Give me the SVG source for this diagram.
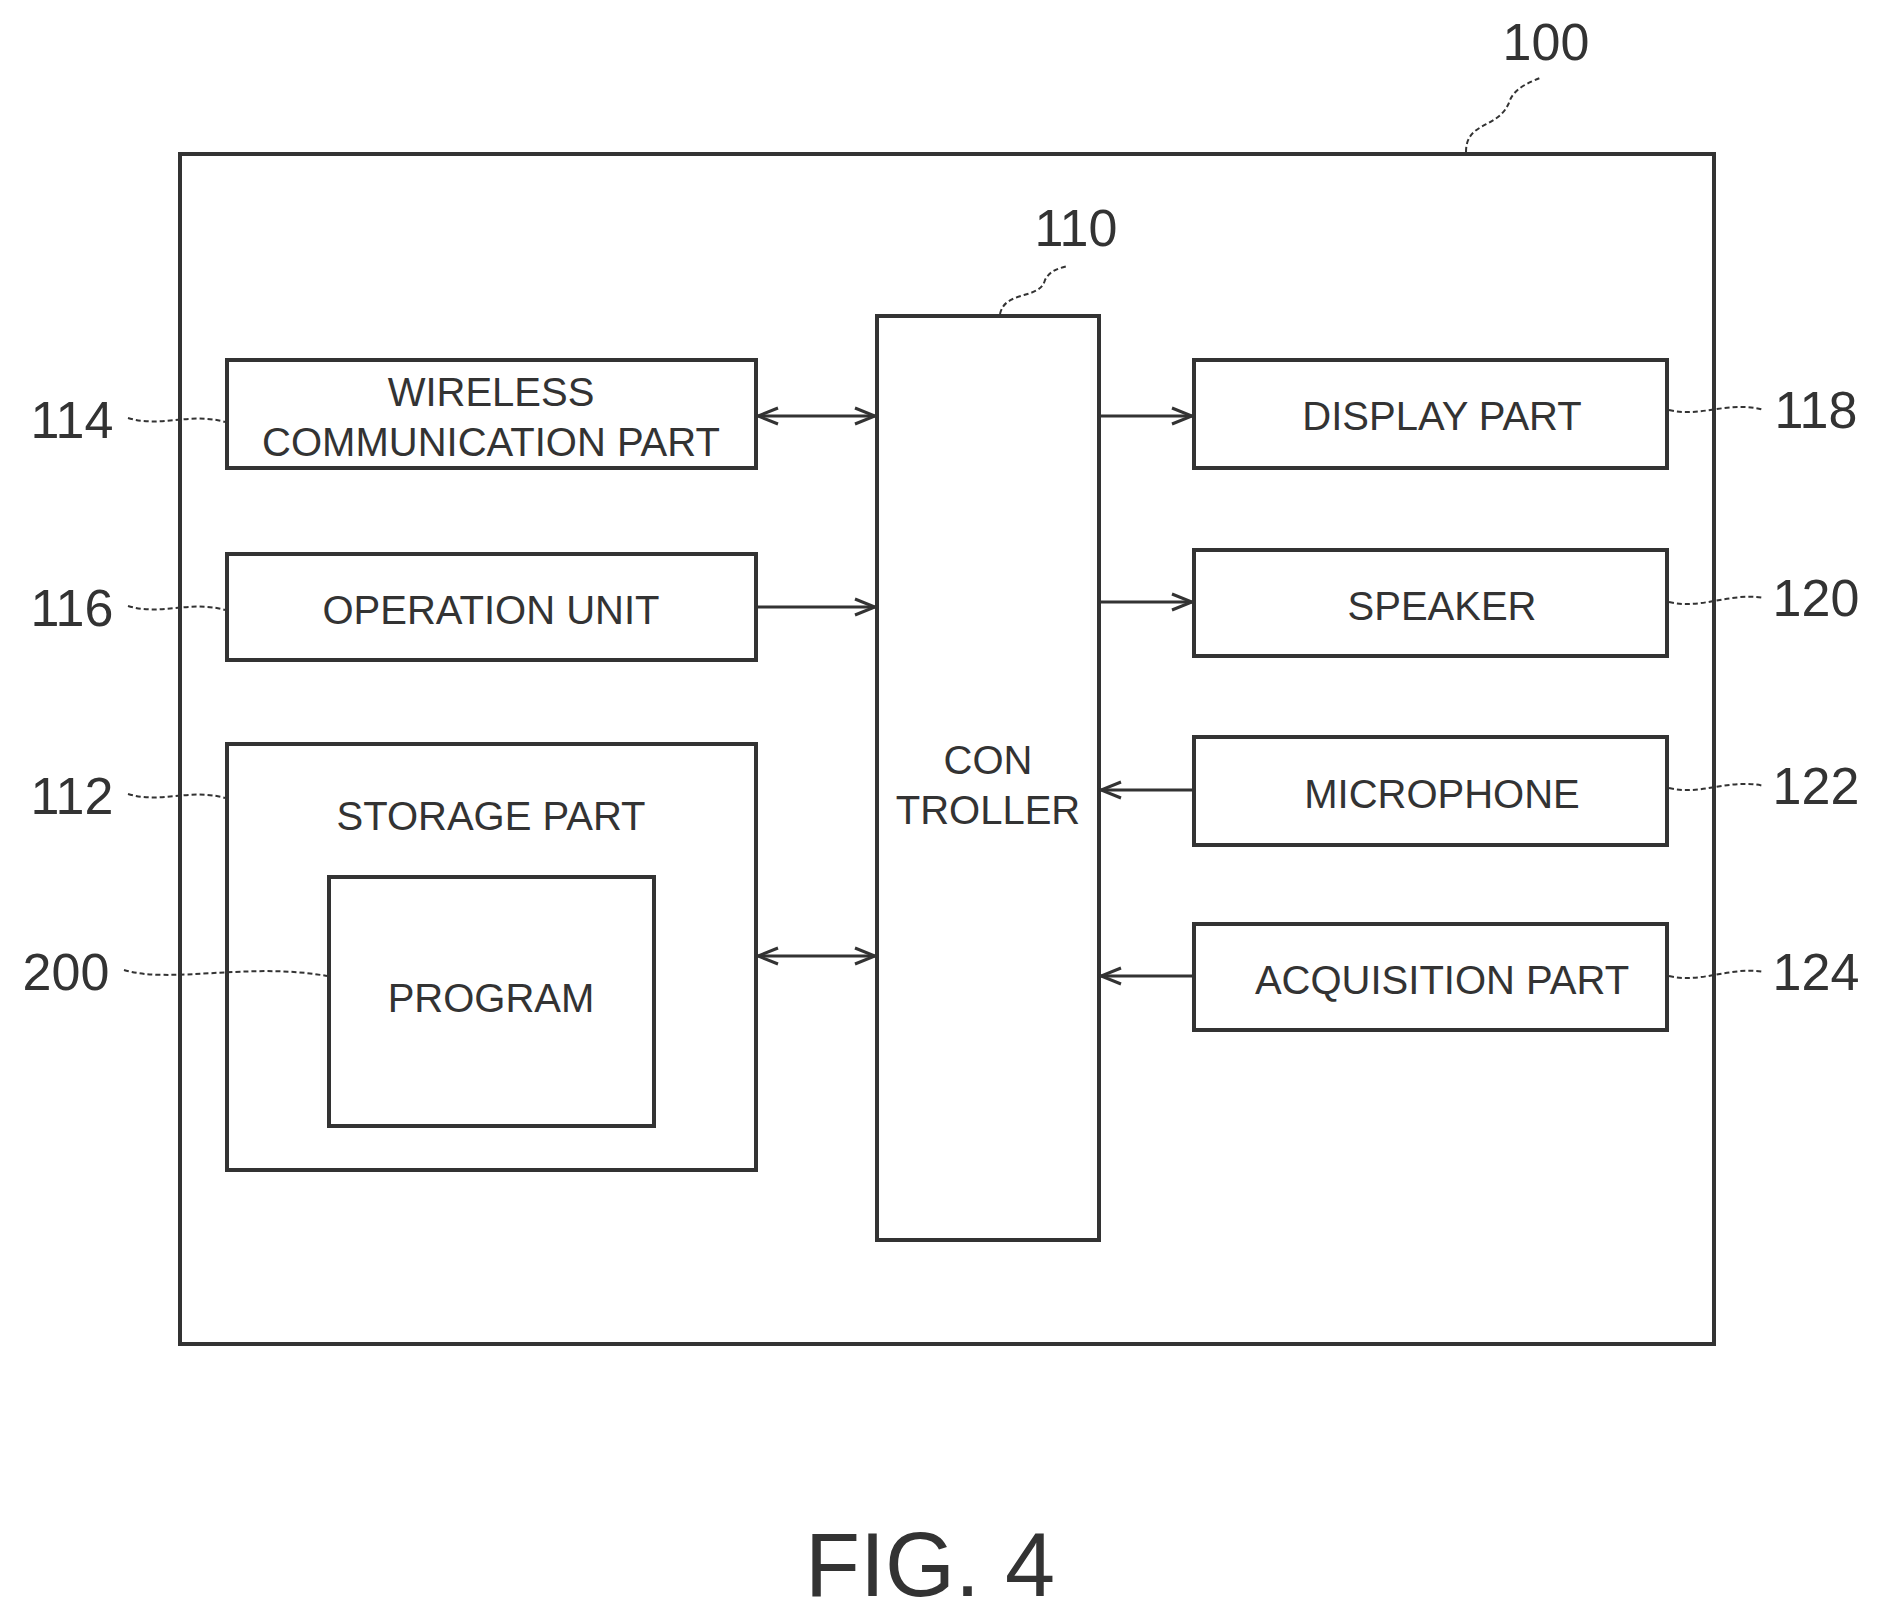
<svg xmlns="http://www.w3.org/2000/svg" width="1881" height="1619" viewBox="0 0 1881 1619">
<style>
.b{fill:none;stroke:#333;stroke-width:4}
.t{font-family:"Liberation Sans",Arial,sans-serif;font-size:40px;fill:#333;text-anchor:middle}
.n{font-family:"Liberation Sans",Arial,sans-serif;font-size:52px;fill:#333;text-anchor:middle}
.c{fill:none;stroke:#333;stroke-width:3}
.l{fill:none;stroke:#333;stroke-width:2;stroke-dasharray:5 3}
</style>
<defs>
<marker id="a" markerWidth="24" markerHeight="20" refX="22" refY="10" orient="auto-start-reverse" markerUnits="userSpaceOnUse">
<path d="M2,2 L22,10 L2,18" fill="none" stroke="#333" stroke-width="3"/>
</marker>
</defs>
<rect width="1881" height="1619" fill="#fff"/>
<g id="n100"><rect class="b" x="180" y="154" width="1534" height="1190"/><text class="n" x="1546" y="60">100</text><path class="l" d="M1466,152 C1466,120 1500,130 1510,100 C1515,88 1530,82 1540,78"/></g>
<g id="n110"><rect class="b" x="877" y="316" width="222" height="924"/><text class="t" x="988" y="774">CON</text><text class="t" x="988" y="824">TROLLER</text><text class="n" x="1076" y="246">110</text><path class="l" d="M1000,314 C1005,290 1040,300 1045,280 C1050,270 1060,268 1068,266"/></g>
<g id="n114"><rect class="b" x="227" y="360" width="529" height="108"/><text class="t" x="491" y="406">WIRELESS</text><text class="t" x="491" y="456">COMMUNICATION PART</text><text class="n" x="72" y="438">114</text><path class="l" d="M128,418 C160,428 190,412 225,422"/></g>
<g id="n116"><rect class="b" x="227" y="554" width="529" height="106"/><text class="t" x="491" y="624">OPERATION UNIT</text><text class="n" x="72" y="626">116</text><path class="l" d="M128,606 C160,616 190,600 225,610"/></g>
<g id="n112"><rect class="b" x="227" y="744" width="529" height="426"/><text class="t" x="491" y="830">STORAGE PART</text><text class="n" x="72" y="814">112</text><path class="l" d="M128,794 C160,804 190,788 225,798"/></g>
<g id="n200"><rect class="b" x="329" y="877" width="325" height="249"/><text class="t" x="491" y="1012">PROGRAM</text><text class="n" x="66" y="990">200</text><path class="l" d="M124,970 C170,984 250,962 327,976"/></g>
<g id="n118"><rect class="b" x="1194" y="360" width="473" height="108"/><text class="t" x="1442" y="430">DISPLAY PART</text><text class="n" x="1816" y="428">118</text><path class="l" d="M1669,410 C1700,418 1730,400 1764,410"/></g>
<g id="n120"><rect class="b" x="1194" y="550" width="473" height="106"/><text class="t" x="1442" y="620">SPEAKER</text><text class="n" x="1816" y="616">120</text><path class="l" d="M1669,602 C1700,610 1730,592 1764,598"/></g>
<g id="n122"><rect class="b" x="1194" y="737" width="473" height="108"/><text class="t" x="1442" y="808">MICROPHONE</text><text class="n" x="1816" y="804">122</text><path class="l" d="M1669,788 C1700,796 1730,778 1764,786"/></g>
<g id="n124"><rect class="b" x="1194" y="924" width="473" height="106"/><text class="t" x="1442" y="994">ACQUISITION PART</text><text class="n" x="1816" y="990">124</text><path class="l" d="M1669,976 C1700,984 1730,966 1764,972"/></g>
<g id="connectors">
<line class="c" x1="758" y1="416" x2="875" y2="416" marker-start="url(#a)" marker-end="url(#a)"/>
<line class="c" x1="758" y1="607" x2="875" y2="607" marker-end="url(#a)"/>
<line class="c" x1="758" y1="956" x2="875" y2="956" marker-start="url(#a)" marker-end="url(#a)"/>
<line class="c" x1="1101" y1="416" x2="1192" y2="416" marker-end="url(#a)"/>
<line class="c" x1="1101" y1="602" x2="1192" y2="602" marker-end="url(#a)"/>
<line class="c" x1="1192" y1="790" x2="1101" y2="790" marker-end="url(#a)"/>
<line class="c" x1="1192" y1="976" x2="1101" y2="976" marker-end="url(#a)"/>
</g>
<text x="930" y="1596" font-family="Liberation Sans,Arial,sans-serif" font-size="90" fill="#333" text-anchor="middle">FIG. 4</text>
</svg>
